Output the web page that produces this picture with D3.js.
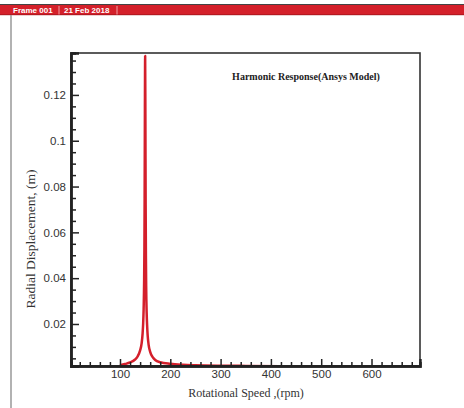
<!DOCTYPE html>
<html>
<head>
<meta charset="utf-8">
<script src="https://cdn.jsdelivr.net/npm/d3@7"></script>
<style>
  html, body { margin: 0; padding: 0; background: #fff; }
  svg { display: block; }
</style>
</head>
<body>
<svg id="chart" width="464" height="408"></svg>
<script>
// Harmonic response: radial displacement vs rotational speed
const rpm = [100, 110, 120, 130, 135, 140, 143, 145, 146, 147, 148, 148.5, 149, 149.5, 150,
             150.5, 151, 151.5, 152, 153, 154, 155, 157, 160, 165, 170, 180, 200, 225, 250,
             300, 350, 420];
const displacement = [0.0020, 0.0025, 0.0032, 0.0045, 0.0058, 0.0085, 0.0115, 0.0160, 0.0200,
             0.0265, 0.0390, 0.0520, 0.0750, 0.1120, 0.1370,
             0.1100, 0.0720, 0.0500, 0.0370, 0.0250, 0.0190, 0.0150, 0.0108, 0.0078, 0.0055,
             0.0043, 0.0033, 0.0026, 0.0022, 0.0020, 0.0018, 0.0017, 0.0016];

const xMajorTicks = [100, 200, 300, 400, 500, 600];
const xMinorTicks = d3.range(20, 700, 20).filter(v => v % 100 !== 0);
const yMajorTicks = [0.02, 0.04, 0.06, 0.08, 0.1, 0.12];
const yMinorTicks = d3.range(1, 28).map(i => +(i * 0.005).toFixed(3)).filter(v => Math.round(v * 1000) % 20 !== 0);
const yTickLabels = ["0.02", "0.04", "0.06", "0.08", "0.1", "0.12"];

const frameLabel = "Frame 001";
const dateLabel = "21 Feb 2018";
const titleText = "Harmonic Response(Ansys Model)";
const xTitle = "Rotational Speed ,(rpm)";
const yTitle = "Radial Displacement, (m)";

const svg = d3.select("#chart");
const W = 464, H = 408;
const plot = { left: 71, top: 53, right: 420, bottom: 366 };

// header strip
svg.append("rect").attr("x", 0).attr("y", 4).attr("width", W).attr("height", 1.2).attr("fill", "#444");
svg.append("rect").attr("x", 0).attr("y", 5).attr("width", W).attr("height", 10).attr("fill", "#d4202a");
svg.append("rect").attr("x", 0).attr("y", 14.4).attr("width", W).attr("height", 0.8).attr("fill", "#a0141c");
[59, 117].forEach(x => svg.append("line")
  .attr("x1", x).attr("x2", x).attr("y1", 6).attr("y2", 14.5)
  .attr("stroke", "#f0a0a4").attr("stroke-width", 1));
svg.append("text").attr("x", 13).attr("y", 13).text(frameLabel)
  .attr("font-family", "Liberation Sans, Arial, sans-serif").attr("font-weight", "bold")
  .attr("font-size", "8px").attr("fill", "#fff");
svg.append("text").attr("x", 64).attr("y", 13).text(dateLabel)
  .attr("font-family", "Liberation Sans, Arial, sans-serif").attr("font-weight", "bold")
  .attr("font-size", "8px").attr("fill", "#fff");

// left frame edge
svg.append("line").attr("x1", 11).attr("x2", 11).attr("y1", 15).attr("y2", H)
  .attr("stroke", "#999").attr("stroke-width", 1.5);

const x = d3.scaleLinear().domain([2.6, 696.4]).range([plot.left, plot.right]);
const y = d3.scaleLinear().domain([0.00166, 0.1383]).range([plot.bottom, plot.top]);

// clip for the curve
svg.append("defs").append("clipPath").attr("id", "plotClip")
  .append("rect").attr("x", plot.left).attr("y", plot.top)
  .attr("width", plot.right - plot.left).attr("height", plot.bottom - plot.top);

const data = rpm.map((r, i) => ({ r, v: displacement[i] }));
const line = d3.line().x(d => x(d.r)).y(d => y(d.v)).curve(d3.curveMonotoneX);

svg.append("path").datum(data)
  .attr("clip-path", "url(#plotClip)")
  .attr("d", line)
  .attr("fill", "none")
  .attr("stroke", "#d41f2b")
  .attr("stroke-width", 2.5)
  .attr("stroke-linejoin", "round");

// plot box
svg.append("rect").attr("x", plot.left).attr("y", plot.top)
  .attr("width", plot.right - plot.left).attr("height", plot.bottom - plot.top)
  .attr("fill", "none").attr("stroke", "#333").attr("stroke-width", 1.6);

const tickFont = "Liberation Sans, Arial, sans-serif";

// x axis: minor then major ticks, pointing into the plot
const gxMinor = svg.append("g").attr("transform", `translate(0,${plot.bottom})`)
  .call(d3.axisBottom(x).tickValues(xMinorTicks).tickSize(-4).tickFormat(""));
const gx = svg.append("g").attr("transform", `translate(0,${plot.bottom})`)
  .call(d3.axisBottom(x).tickValues(xMajorTicks).tickSize(-7).tickPadding(4).tickFormat(d3.format("d")));

// y axis
const gyMinor = svg.append("g").attr("transform", `translate(${plot.left},0)`)
  .call(d3.axisLeft(y).tickValues(yMinorTicks).tickSize(-5).tickFormat(""));
const gy = svg.append("g").attr("transform", `translate(${plot.left},0)`)
  .call(d3.axisLeft(y).tickValues(yMajorTicks).tickSize(-8).tickPadding(5)
    .tickFormat((d, i) => yTickLabels[i]));

[gxMinor, gx, gyMinor, gy].forEach(g => {
  g.select(".domain").attr("stroke", "#222").attr("stroke-width", 2.4);
  g.selectAll(".tick line").attr("stroke", "#222").attr("stroke-width", 1.5);
  g.selectAll(".tick text").attr("font-family", tickFont).attr("font-size", "11.5px").attr("fill", "#333");
});

// titles
svg.append("text").attr("x", 306).attr("y", 80).attr("text-anchor", "middle")
  .attr("font-family", "Liberation Serif, Times New Roman, serif").attr("font-weight", "bold")
  .attr("font-size", "10px").attr("fill", "#222").text(titleText);

svg.append("text").attr("x", 246).attr("y", 397).attr("text-anchor", "middle")
  .attr("font-family", "Liberation Serif, Times New Roman, serif")
  .attr("font-size", "12px").attr("fill", "#333").text(xTitle);

svg.append("text").attr("transform", "translate(35,239) rotate(-90)").attr("text-anchor", "middle")
  .attr("font-family", "Liberation Serif, Times New Roman, serif")
  .attr("font-size", "13.5px").attr("fill", "#333").text(yTitle);
</script>
</body>
</html>
